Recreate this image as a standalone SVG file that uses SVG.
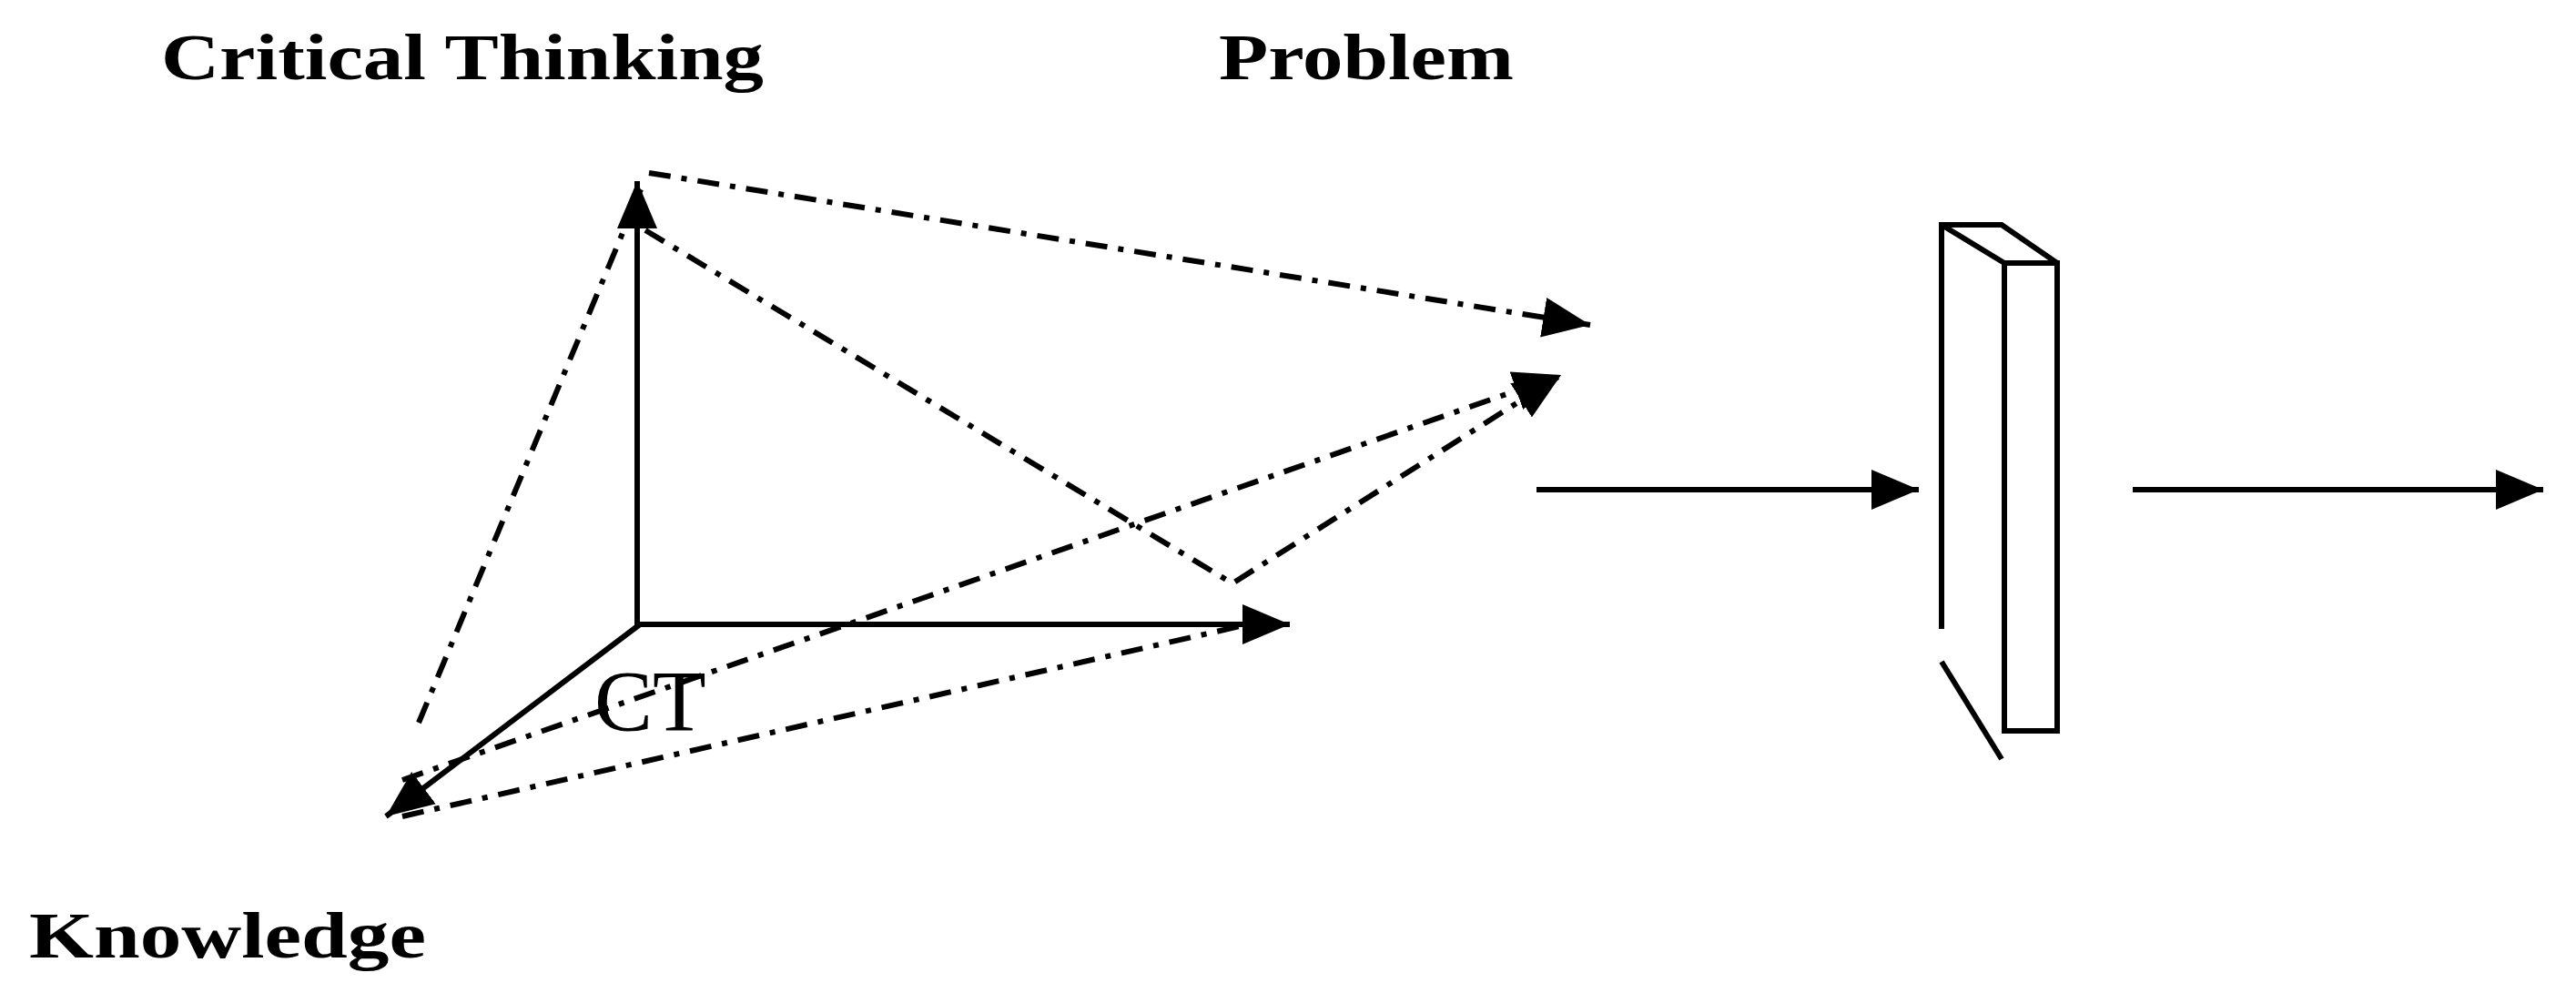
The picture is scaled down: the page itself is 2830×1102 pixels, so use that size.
<svg xmlns="http://www.w3.org/2000/svg" width="2830" height="1102" viewBox="0 0 2830 1102">
<style>
.s{stroke:#000;stroke-width:6;fill:none}
.d{stroke:#000;stroke-width:6;fill:none;stroke-dasharray:24 12 6 12}
.t{font-family:"Liberation Serif",serif;font-weight:bold;font-size:72px}
</style>
<defs>
<marker id="a" markerUnits="userSpaceOnUse" markerWidth="60" markerHeight="50" refX="52" refY="22" orient="auto" viewBox="0 0 60 44">
<path d="M0,0 L52,22 L0,44 Z" fill="#000"/>
</marker>
</defs>
<rect width="2830" height="1102" fill="#fff"/>
<g id="labels">
<text class="t" x="177" y="87" textLength="662" lengthAdjust="spacingAndGlyphs">Critical Thinking</text>
<text class="t" x="1339" y="87" textLength="324" lengthAdjust="spacingAndGlyphs">Problem</text>
<text class="t" x="32" y="1052" textLength="436" lengthAdjust="spacingAndGlyphs">Knowledge</text>
<text x="653" y="803" font-family="Liberation Serif,serif" font-size="96">CT</text>
</g>
<g id="connectors">
<line class="s" x1="700" y1="690" x2="700" y2="199" marker-end="url(#a)"/>
<line class="s" x1="697" y1="686" x2="1417" y2="686" marker-end="url(#a)"/>
<line class="s" x1="703" y1="686" x2="424" y2="897" marker-end="url(#a)"/>
<line class="d" x1="713" y1="190" x2="1747" y2="357" marker-end="url(#a)"/>
<polyline class="d" points="709,253 1354,641 1715,412" marker-end="url(#a)"/>
<line class="d" x1="442" y1="857" x2="1715" y2="412" marker-end="url(#a)"/>
<line class="d" x1="442" y1="897" x2="1380" y2="684"/>
<line class="d" x1="460" y1="794" x2="704" y2="208"/>
<line class="s" x1="1688" y1="538" x2="2108" y2="538" marker-end="url(#a)"/>
<line class="s" x1="2343" y1="538" x2="2794" y2="538" marker-end="url(#a)"/>
</g>
<g id="slab">
<rect class="s" x="2202" y="289" width="58" height="514"/>
<polyline class="s" points="2133,691 2133,247 2199,247 2260,289"/>
<line class="s" x1="2133" y1="247" x2="2202" y2="289"/>
<line class="s" x1="2133" y1="727" x2="2199" y2="834"/>
</g>
</svg>
